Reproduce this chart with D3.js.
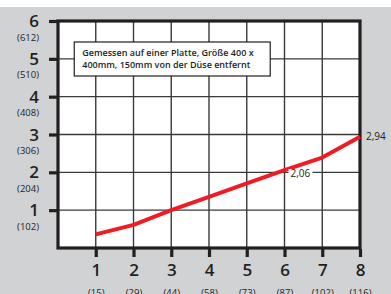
<!DOCTYPE html>
<html>
<head>
<meta charset="utf-8">
<script src="https://cdn.jsdelivr.net/npm/d3@7"></script>
<style>
  html, body { margin: 0; padding: 0; background: #fff; }
  svg { display: block; }
  text { font-family: "Open Sans", sans-serif; fill: #231f20; }
</style>
</head>
<body>
<div id="chart"></div>
<script>
// x: distance steps, y: measured values
var xTicks = [1, 2, 3, 4, 5, 6, 7, 8];
var xSubLabels = ["(15)", "(29)", "(44)", "(58)", "(73)", "(87)", "(102)", "(116)"];
var yTicks = [1, 2, 3, 4, 5, 6];
var ySubLabels = ["(102)", "(204)", "(306)", "(408)", "(510)", "(612)"];
var values = [0.36, 0.61, 1.0, 1.35, 1.71, 2.06, 2.39, 2.94];
var noteLines = ["Gemessen auf einer Platte, Größe 400 x", "400mm, 150mm von der Düse entfernt"];
var callouts = [{x: 6, label: "2,06"}, {x: 8, label: "2,94"}];

var W = 391, H = 294;
var margin = {top: 21, right: 31, bottom: 46, left: 58};
var width = W - margin.left - margin.right,
    height = H - margin.top - margin.bottom;

var xScale = d3.scaleLinear().domain([0, 8]).range([0, width]);
var yScale = d3.scaleLinear().domain([0, 6]).range([height, 0]);

var svg = d3.select("#chart").append("svg")
  .attr("width", W).attr("height", H);

// grey background with a thin white band on top
svg.append("rect").attr("x", 0).attr("y", 7).attr("width", W).attr("height", H - 7)
  .attr("fill", "#d1d2d4");

var g = svg.append("g").attr("transform", "translate(" + margin.left + "," + margin.top + ")");

g.append("rect").attr("width", width).attr("height", height).attr("fill", "#fff");

// grid
g.selectAll(".vgrid").data(xTicks.slice(0, -1)).enter().append("line")
  .attr("x1", function(d) { return xScale(d); }).attr("x2", function(d) { return xScale(d); })
  .attr("y1", 0).attr("y2", height)
  .attr("stroke", "#3a3a3a").attr("stroke-width", 1.4);
g.selectAll(".hgrid").data(yTicks.slice(0, -1)).enter().append("line")
  .attr("x1", 0).attr("x2", width)
  .attr("y1", function(d) { return yScale(d); }).attr("y2", function(d) { return yScale(d); })
  .attr("stroke", "#3a3a3a").attr("stroke-width", 1.4);

// frame
g.append("rect").attr("width", width).attr("height", height)
  .attr("fill", "none").attr("stroke", "#231f20").attr("stroke-width", 3.2);

// axes
var xAxis = g.append("g").attr("transform", "translate(0," + height + ")")
  .call(d3.axisBottom(xScale).tickValues(xTicks).tickSize(9).tickPadding(7)
    .tickFormat(function(d) { return d; }));
xAxis.select(".domain").remove();
xAxis.selectAll(".tick line").attr("stroke", "#231f20").attr("stroke-width", 3.2).attr("y1", 1);
xAxis.selectAll(".tick text").attr("font-size", 17).attr("font-weight", 600).attr("fill", "#231f20")
  .attr("font-family", "Open Sans, sans-serif");
xAxis.selectAll(".tick").append("text")
  .attr("y", 48).attr("text-anchor", "middle")
  .attr("font-size", 9.5).attr("fill", "#231f20")
  .text(function(d, i) { return xSubLabels[i]; });

var yAxis = g.append("g")
  .call(d3.axisLeft(yScale).tickValues(yTicks).tickSize(9).tickPadding(11)
    .tickFormat(function(d) { return d; }));
yAxis.select(".domain").remove();
yAxis.selectAll(".tick line").attr("stroke", "#231f20").attr("stroke-width", 3.2).attr("x1", -1);
yAxis.selectAll(".tick text").attr("font-size", 17).attr("font-weight", 600).attr("fill", "#231f20")
  .attr("x", -19).attr("dy", "0.33em")
  .attr("font-family", "Open Sans, sans-serif");
yAxis.selectAll(".tick").append("text")
  .attr("x", -19).attr("y", 19).attr("text-anchor", "end")
  .attr("font-size", 9.5).attr("fill", "#231f20")
  .text(function(d, i) { return ySubLabels[i]; });

// data line
var line = d3.line()
  .x(function(d, i) { return xScale(xTicks[i]); })
  .y(function(d) { return yScale(d); });
g.append("path").datum(values)
  .attr("d", line).attr("fill", "none")
  .attr("stroke", "#ee1c25").attr("stroke-width", 4).attr("stroke-linejoin", "round");

// callouts
var c1 = g.append("g");
c1.append("rect").attr("x", xScale(6) + 4).attr("y", yScale(values[5]) - 1)
  .attr("width", 24).attr("height", 11).attr("fill", "#fff");
c1.append("text").attr("x", xScale(6) + 6).attr("y", yScale(values[5]) + 3).attr("dy", "0.35em")
  .attr("font-size", 10).text(callouts[0].label);
g.append("text").attr("x", xScale(8) + 6).attr("y", yScale(values[7])).attr("dy", "0.35em")
  .attr("font-size", 10).text(callouts[1].label);

// note box
var note = g.append("g").attr("transform", "translate(" + (xScale(0.43)) + ",21)");
note.append("rect").attr("width", 196).attr("height", 34)
  .attr("fill", "#fff").attr("stroke", "#231f20").attr("stroke-width", 1.2);
note.selectAll("text").data(noteLines).enter().append("text")
  .attr("x", 8).attr("y", function(d, i) { return 14 + i * 11.5; })
  .attr("font-size", 9).attr("font-weight", 600)
  .text(function(d) { return d; });
</script>
</body>
</html>
